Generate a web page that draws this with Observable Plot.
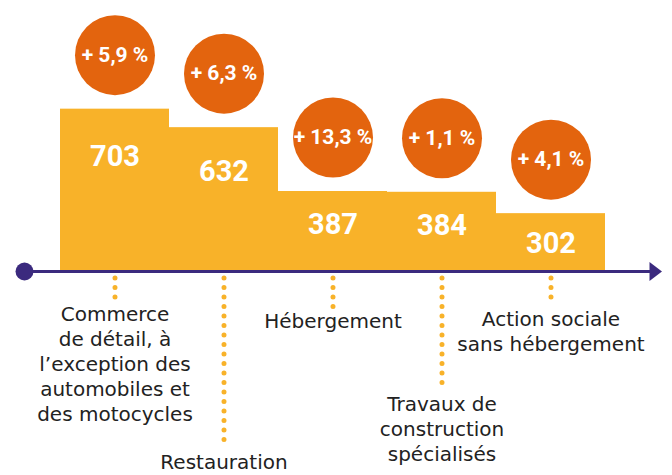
<!DOCTYPE html>
<html><head><meta charset="utf-8">
<script src="https://cdn.jsdelivr.net/npm/d3@7"></script>
<script src="https://cdn.jsdelivr.net/npm/@observablehq/plot@0.6"></script>
<style>body{margin:0;background:#fff}#chart svg{display:block}</style>
</head><body><div id="chart"></div>
<script>
// ---- data ----
const labels = [
  "Commerce\nde détail, à\nl’exception des\nautomobiles et\ndes motocycles",
  "Restauration",
  "Hébergement",
  "Travaux de\nconstruction\nspécialisés",
  "Action sociale\nsans hébergement"
];
const values = [703, 632, 387, 384, 302];
const changes = ["+ 5,9 %", "+ 6,3 %", "+ 13,3 %", "+ 1,1 %", "+ 4,1 %"];

// ---- layout (pixels below the axis) ----
const leaderEnd = [33, 176, 37, 117, 33];
const labelTop = [32, 180, 39, 122, 37];

const data = labels.map((label, i) => ({label, value: values[i], change: changes[i]}));

const BASE = 80;
const bar = "#F8B229", circ = "#E3640E", purple = "#3B2A7E";
const arrow = {draw(ctx) { ctx.moveTo(6.5, 0); ctx.lineTo(-6, -9.5); ctx.lineTo(-6, 9.5); ctx.closePath(); }};

const chart = Plot.plot({
  width: 672, height: 475,
  marginTop: 0, marginBottom: 204, marginLeft: 59, marginRight: 66,
  x: {domain: labels, padding: 0, axis: null},
  y: {domain: [BASE, 1120], axis: null},
  marks: [
    Plot.barY(data, {x: "label", y1: BASE, y2: "value", fill: bar}),
    Plot.ruleY([BASE], {stroke: purple, strokeWidth: 3, insetLeft: -35, insetRight: -50}),
    Plot.dot([BASE], {y: d => d, frameAnchor: "left", dx: -35, r: 9, fill: purple}),
    Plot.dot([BASE], {y: d => d, frameAnchor: "right", dx: 49, symbol: arrow, fill: purple}),
    Plot.dot(data, {x: "label", y: "value", dy: -54, r: 40, fill: circ}),
    Plot.text(data, {x: "label", y: "value", dy: -54, text: "change", fill: "white", fontWeight: "bold", fontSize: 21, fontFamily: "Roboto"}),
    Plot.text(data, {x: "label", y: d => 0.83 * d.value - 63, text: d => String(d.value), fill: "white", fontWeight: "bold", fontSize: 29, fontFamily: "Roboto"}),
    ...data.map((d, i) => Plot.ruleX([d], {x: "label", y1: BASE, y2: BASE, insetTop: 7, insetBottom: -leaderEnd[i], stroke: bar, strokeWidth: 5, strokeDasharray: "0 9.5", strokeLinecap: "round"})),
    ...data.map((d, i) => Plot.text([d], {x: "label", y: BASE, dy: labelTop[i], lineAnchor: "top", text: "label", fill: "#222", fontSize: 20, lineHeight: 1.25, fontFamily: "DejaVu Sans"}))
  ]
});
document.getElementById("chart").append(chart);
</script>
</body></html>
